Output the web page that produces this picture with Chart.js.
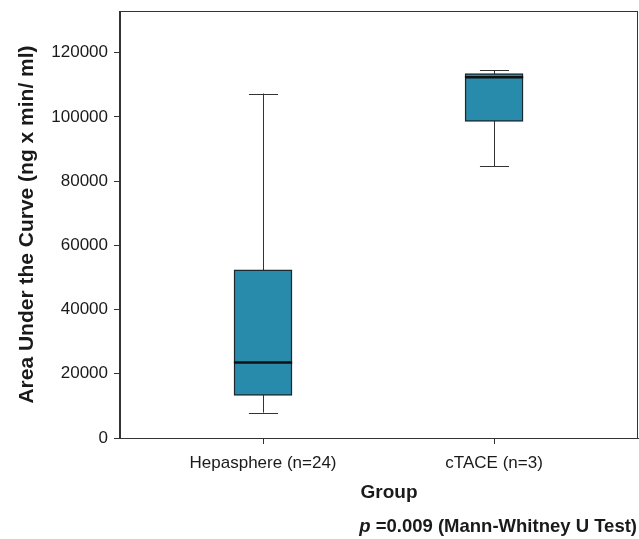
<!DOCTYPE html>
<html>
  <head>
   <meta charset='utf-8'>
   <title>AUC by group</title>
   <script src="https://cdn.jsdelivr.net/npm/chart.js@4.4.1/dist/chart.umd.min.js"></script>
   <style>
     body { margin: 0; background: #fff; }
     #wrap { position: relative; width: 639px; height: 539px; }
     #xtitle { position: absolute; left: 339px; width: 100px; text-align: center; top: 481px; font: bold 19px "Liberation Sans", Arial, sans-serif; color: #1a1a1a; }
     #pnote { position: absolute; right: 2px; top: 515px; font: bold 18.5px "Liberation Sans", Arial, sans-serif; color: #1a1a1a; }
   </style>
  </head>
  <body>
    <div id="wrap">
      <canvas id="box_chart" width="639" height="539"></canvas>
      <div id="xtitle">Group</div>
      <div id="pnote"><i>p</i> =0.009 (Mann-Whitney U Test)</div>
    </div>
    <script>
      // values
      var groups = ['Hepasphere (n=24)', 'cTACE (n=3)'];
      var whisker_low = [7900, 84700];
      var q1 = [13300, 98600];
      var median = [23500, 112400];
      var q3 = [52400, 113500];
      var whisker_high = [107300, 114600];
      var y_ticks = [0, 20000, 40000, 60000, 80000, 100000, 120000];

      var box_data = groups.map(function(g, i) { return {x: i, y: [q1[i], q3[i]]}; });

      var ink = '#1a1a1a';
      var font_family = '"Liberation Sans", Arial, sans-serif';

      // whiskers, caps, medians and the frame, all placed through the chart scales
      var boxExtras = {
        id: 'boxExtras',
        beforeDatasetsDraw: function(chart) {
          var ctx = chart.ctx, xs = chart.scales.x, ys = chart.scales.y;
          ctx.save();
          ctx.strokeStyle = '#333';
          ctx.lineWidth = 1;
          for (var i = 0; i < groups.length; i++) {
            var cx = Math.round(xs.getPixelForValue(i)) + 0.5;
            var half = (xs.getPixelForValue(i + 0.063) - xs.getPixelForValue(i));
            ctx.beginPath();
            ctx.moveTo(cx, ys.getPixelForValue(whisker_low[i]));
            ctx.lineTo(cx, ys.getPixelForValue(whisker_high[i]));
            [whisker_low[i], whisker_high[i]].forEach(function(v) {
              var yy = Math.round(ys.getPixelForValue(v)) + 0.5;
              ctx.moveTo(cx - half, yy);
              ctx.lineTo(cx + half, yy);
            });
            ctx.stroke();
          }
          ctx.restore();
        },
        afterDatasetsDraw: function(chart) {
          var ctx = chart.ctx, xs = chart.scales.x, ys = chart.scales.y;
          ctx.save();
          ctx.strokeStyle = '#111';
          ctx.lineWidth = 2.5;
          for (var i = 0; i < groups.length; i++) {
            var cx = xs.getPixelForValue(i);
            var half = (xs.getPixelForValue(i + 0.126) - cx);
            var yy = ys.getPixelForValue(median[i]);
            ctx.beginPath();
            ctx.moveTo(cx - half, yy);
            ctx.lineTo(cx + half, yy);
            ctx.stroke();
          }
          var a = chart.chartArea;
          ctx.strokeStyle = '#333';
          ctx.lineWidth = 1;
          ctx.strokeRect(Math.round(a.left) - 0.5, Math.round(a.top) + 0.5, Math.round(a.right - a.left), Math.round(a.bottom - a.top));
          ctx.restore();
        }
      };

      var ctx = document.getElementById('box_chart').getContext('2d');
      var chart = new Chart(ctx, {
        type: 'bar',
        data: {
          datasets: [
            {'data': box_data, 'backgroundColor': '#288bab', 'borderColor': '#1b2a30', 'borderWidth': 1.5,
             'borderSkipped': false, 'barThickness': 58}
          ]
        },
        options: {
          responsive: false,
          animation: false,
          layout: {padding: {left: 0, top: 11, right: 1, bottom: 0}},
          plugins: {legend: {display: false}, tooltip: {enabled: false}},
          scales: {
            x: {
              type: 'linear', min: -0.619, max: 1.623, offset: false,
              afterBuildTicks: function(s) { s.ticks = groups.map(function(g, i) { return {value: i}; }); },
              afterFit: function(s) { s.height = 101; s.paddingLeft = 0; s.paddingRight = 0; },
              ticks: {callback: function(v) { return groups[v]; }, color: ink, padding: 9,
                      font: {family: font_family, size: 17}, maxRotation: 0, autoSkip: false},
              grid: {offset: false, drawOnChartArea: false, drawTicks: true, tickLength: 6, color: '#333'},
              border: {display: true, color: '#333'}
            },
            y: {
              min: 0, max: 133000,
              afterBuildTicks: function(s) { s.ticks = y_ticks.map(function(v) { return {value: v}; }); },
              afterFit: function(s) { s.width = 120; s.paddingTop = 0; s.paddingBottom = 0; },
              ticks: {callback: function(v) { return String(v); }, color: ink, padding: 6,
                      font: {family: font_family, size: 17}},
              grid: {drawOnChartArea: false, drawTicks: true, tickLength: 6, color: '#333'},
              border: {display: true, color: '#333'},
              title: {display: true, text: 'Area Under the Curve (ng x min/ ml)', color: ink,
                      padding: {top: 15, bottom: 0}, font: {family: font_family, size: 21, weight: 'bold'}}
            }
          }
        },
        plugins: [boxExtras]
      });
    </script>
  </body>
</html>
